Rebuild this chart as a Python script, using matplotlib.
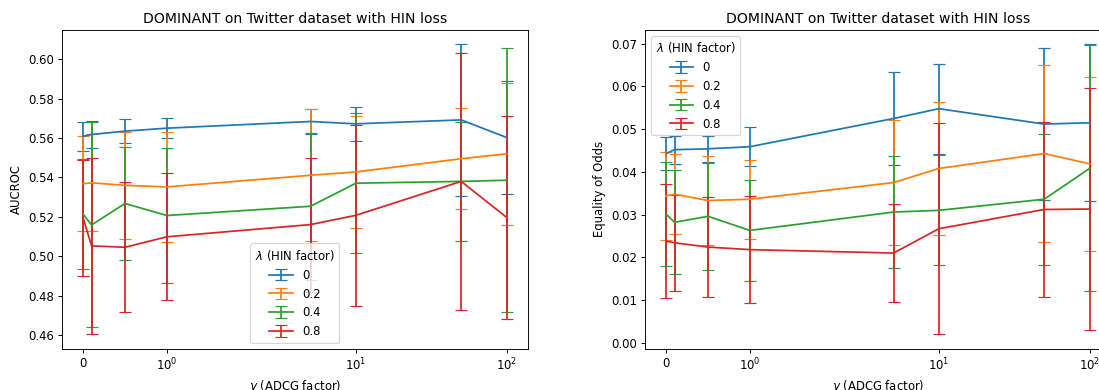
import matplotlib
matplotlib.use("Agg")
import matplotlib.pyplot as plt
import numpy as np

# gamma (ADCG factor) grid
GAMMAS = [0, 0.1, 0.5, 1, 5, 10, 50, 100]
LAMBDAS = ["0", "0.2", "0.4", "0.8"]

# ── AUCROC (mean, std) per lambda ────────────────────────────────────────────
auc_l0 = [0.5609, 0.5618, 0.5635, 0.5650, 0.5684, 0.5672, 0.5692, 0.5603]
auc_l0_std = [0.0074, 0.0066, 0.0061, 0.0051, 0.0062, 0.0087, 0.0384, 0.0288]
auc_l2 = [0.5368, 0.5373, 0.5360, 0.5352, 0.5411, 0.5428, 0.5495, 0.5520]
auc_l2_std = [0.0240, 0.0245, 0.0270, 0.0280, 0.0335, 0.0284, 0.0255, 0.0360]
auc_l4 = [0.5214, 0.5159, 0.5268, 0.5207, 0.5254, 0.5371, 0.5380, 0.5386]
auc_l4_std = [0.0278, 0.0520, 0.0285, 0.0340, 0.0374, 0.0355, 0.0300, 0.0670]
auc_l8 = [0.5195, 0.5053, 0.5046, 0.5099, 0.5161, 0.5208, 0.5380, 0.5198]
auc_l8_std = [0.0295, 0.0448, 0.0330, 0.0322, 0.0340, 0.0460, 0.0653, 0.0515]

# ── Equality of odds (mean, std) per lambda ──────────────────────────────────
eo_l0 = [0.0443, 0.0452, 0.0454, 0.0459, 0.0525, 0.0548, 0.0512, 0.0515]
eo_l0_std = [0.0039, 0.0033, 0.0031, 0.0046, 0.0110, 0.0105, 0.0178, 0.0184]
eo_l2 = [0.0344, 0.0348, 0.0333, 0.0336, 0.0375, 0.0408, 0.0443, 0.0419]
eo_l2_std = [0.0103, 0.0093, 0.0105, 0.0093, 0.0146, 0.0155, 0.0208, 0.0204]
eo_l4 = [0.0301, 0.0282, 0.0296, 0.0263, 0.0306, 0.0310, 0.0336, 0.0408]
eo_l4_std = [0.0122, 0.0122, 0.0125, 0.0118, 0.0131, 0.0129, 0.0153, 0.0288]
eo_l8 = [0.0238, 0.0234, 0.0224, 0.0218, 0.0210, 0.0267, 0.0312, 0.0313]
eo_l8_std = [0.0134, 0.0113, 0.0118, 0.0126, 0.0114, 0.0247, 0.0204, 0.0283]

AUC = [(auc_l0, auc_l0_std), (auc_l2, auc_l2_std), (auc_l4, auc_l4_std), (auc_l8, auc_l8_std)]
EO = [(eo_l0, eo_l0_std), (eo_l2, eo_l2_std), (eo_l4, eo_l4_std), (eo_l8, eo_l8_std)]

TITLE = "DOMINANT on Twitter dataset with HIN loss"

W, H, DPI = 1099, 390, 84
fig = plt.figure(figsize=(W / DPI, H / DPI), dpi=DPI)

# axes placed in pixels; the right panel runs past the figure edge (cropped)
ax_w = 465.7 / W
ax_h = 319 / H
ax_b = 1 - 348.7 / H
ax_auc = fig.add_axes([62 / W, ax_b, ax_w, ax_h])
ax_eo = fig.add_axes([645 / W, ax_b, ax_w, ax_h])


def draw(ax, series, ylabel, legend_loc):
    for lam, (mean, std) in zip(LAMBDAS, series):
        ax.errorbar(GAMMAS, mean, yerr=std, capsize=5, label=lam)
    ax.set_xscale("symlog")
    ax.set_title(TITLE)
    ax.set_xlabel(r"$\gamma$ (ADCG factor)")
    ax.set_ylabel(ylabel)
    ax.legend(title=r"$\lambda$ (HIN factor)", loc=legend_loc)


draw(ax_auc, AUC, "AUCROC", "lower center")
draw(ax_eo, EO, "Equality of Odds", "upper left")

fig.savefig("out.png", dpi=DPI)
